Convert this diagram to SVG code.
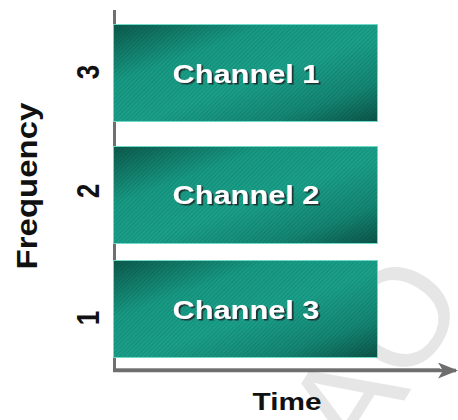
<svg xmlns="http://www.w3.org/2000/svg" width="458" height="420" viewBox="0 0 458 420">
  <defs>
    <linearGradient id="barFill" x1="0" y1="0" x2="1" y2="1">
      <stop offset="0" stop-color="#0c5a4c"/>
      <stop offset="0.3" stop-color="#179a84"/>
      <stop offset="0.55" stop-color="#1aa08a"/>
      <stop offset="0.8" stop-color="#148673"/>
      <stop offset="1" stop-color="#0b5448"/>
    </linearGradient>
    <pattern id="stripes" width="3" height="3" patternUnits="userSpaceOnUse" patternTransform="rotate(45)">
      <rect width="1" height="3" fill="#000000" fill-opacity="0.10"/>
    </pattern>
    <filter id="txtShadow" x="-10%" y="-20%" width="130%" height="150%">
      <feDropShadow dx="1.5" dy="1.5" stdDeviation="0.6" flood-color="#1c2a28" flood-opacity="0.9"/>
    </filter>
    <marker id="arrow" viewBox="0 0 20 16" refX="18" refY="8" markerWidth="20" markerHeight="16" markerUnits="userSpaceOnUse" orient="auto">
      <path d="M0,0 L20,8 L0,16 L5,8 Z" fill="#6e6e6e"/>
    </marker>
  </defs>
  <style>
    .bar { stroke: #6fd8c6; stroke-width: 1; }
    .label { font-family: "Liberation Sans", Arial, sans-serif; font-weight: bold; font-size: 25px; fill: #ffffff; text-anchor: middle; }
    .axisTxt { font-family: "Liberation Sans", Arial, sans-serif; font-weight: bold; fill: #111111; text-anchor: middle; }
    .mark { font-family: "Liberation Sans", Arial, sans-serif; font-weight: normal; font-size: 140px; fill: #e6e6e6; }
  </style>

  <rect width="458" height="420" fill="#ffffff"/>

  <!-- faint background lettering -->
  <text class="mark" transform="translate(362,468) rotate(-58)">AO</text>

  <!-- axes -->
  <g id="connectors">
    <line x1="114.5" y1="10" x2="114.5" y2="372" stroke="#707070" stroke-width="3"/>
    <line x1="113" y1="370.5" x2="456" y2="370.5" stroke="#6e6e6e" stroke-width="3.5" marker-end="url(#arrow)"/>
    <line x1="116" y1="368.5" x2="440" y2="368.5" stroke="#9a9a9a" stroke-width="1"/>
  </g>

  <g id="channel1">
    <rect class="bar" x="113.5" y="24.5" width="264" height="97" fill="url(#barFill)"/>
    <rect x="114" y="25" width="263" height="96" fill="url(#stripes)"/>
    <text class="label" transform="translate(246,83) scale(1.23,1)" filter="url(#txtShadow)">Channel 1</text>
  </g>

  <g id="channel2">
    <rect class="bar" x="113.5" y="146.5" width="264" height="97" fill="url(#barFill)"/>
    <rect x="114" y="147" width="263" height="96" fill="url(#stripes)"/>
    <text class="label" transform="translate(246,204) scale(1.23,1)" filter="url(#txtShadow)">Channel 2</text>
  </g>

  <g id="channel3">
    <rect class="bar" x="113.5" y="260.5" width="264" height="97" fill="url(#barFill)"/>
    <rect x="114" y="261" width="263" height="96" fill="url(#stripes)"/>
    <text class="label" transform="translate(246,319) scale(1.23,1)" filter="url(#txtShadow)">Channel 3</text>
  </g>

  <!-- axis labels -->
  <g id="freq-ticks">
    <text class="axisTxt" font-size="26" transform="translate(99,72) scale(1.24,1) rotate(-90)">3</text>
    <text class="axisTxt" font-size="26" transform="translate(99,191) scale(1.24,1) rotate(-90)">2</text>
    <text class="axisTxt" font-size="26" transform="translate(99,318) scale(1.24,1) rotate(-90)">1</text>
  </g>
  <g id="axis-frequency">
    <text class="axisTxt" font-size="33" transform="translate(37,186) scale(0.88,1) rotate(-90)">Frequency</text>
  </g>
  <g id="axis-time">
    <text class="axisTxt" font-size="24" transform="translate(287,410) scale(1.24,1)">Time</text>
  </g>
</svg>
